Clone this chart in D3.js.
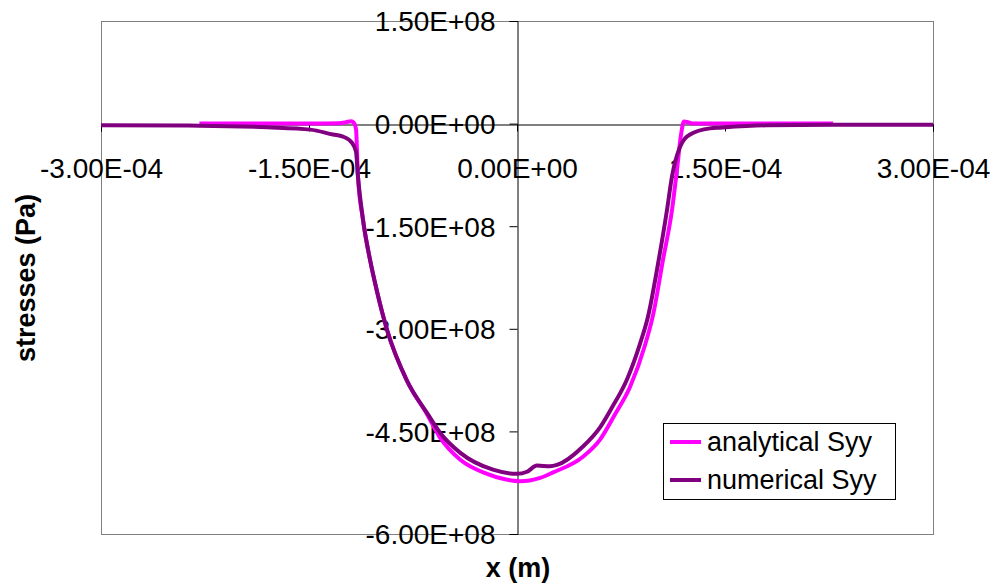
<!DOCTYPE html>
<html>
<head>
<meta charset="utf-8">
<script src="https://cdn.jsdelivr.net/npm/d3@7/dist/d3.min.js"></script>
<style>
  html, body { margin: 0; padding: 0; background: #fff; }
  svg { display: block; font-family: Arial, "Liberation Sans", sans-serif; }
</style>
</head>
<body>
<svg id="chart" width="995" height="586"></svg>
<script>
// ---- data (x in m, stress in Pa) ----
const analyticalX = [-2.29e-4, -1.80e-4, -1.50e-4, -1.28e-4, -1.233e-4, -1.197e-4, -1.176e-4, -1.161e-4, -1.147e-4,
  -1.111e-4, -1.060e-4, -1.010e-4, -0.938e-4, -0.793e-4, -0.649e-4, -0.555e-4, -0.411e-4, -0.216e-4, -0.087e-4,
  0.02e-4, 0.166e-4, 0.260e-4, 0.476e-4, 0.599e-4, 0.707e-4, 0.815e-4, 0.923e-4, 0.981e-4, 1.053e-4, 1.118e-4,
  1.154e-4, 1.183e-4, 1.204e-4, 1.233e-4, 1.27e-4, 1.60e-4, 2.00e-4, 2.28e-4];
const analyticalSyy = [0, 0, 0, 0.5e6, 2e6, 3.5e6, 1e6, -8e6, -7.7e7,
  -1.40e8, -1.99e8, -2.45e8, -3.01e8, -3.76e8, -4.25e8, -4.59e8, -4.91e8, -5.12e8, -5.20e8,
  -5.23e8, -5.18e8, -5.10e8, -4.87e8, -4.62e8, -4.25e8, -3.85e8, -3.24e8, -2.80e8, -1.99e8, -1.26e8,
  -0.67e8, -1.6e7, 3e6, 2e6, 0, 0, 0, 0];

const numericalX = [-3.0e-4, -2.29e-4, -1.80e-4, -1.49e-4, -1.327e-4, -1.255e-4, -1.19e-4, -1.161e-4, -1.147e-4,
  -1.111e-4, -1.060e-4, -1.010e-4, -0.938e-4, -0.793e-4, -0.649e-4, -0.555e-4, -0.411e-4, -0.173e-4, 0,
  0.072e-4, 0.144e-4, 0.238e-4, 0.288e-4, 0.476e-4, 0.599e-4, 0.685e-4, 0.793e-4, 0.887e-4, 0.945e-4, 1.017e-4,
  1.082e-4, 1.118e-4, 1.176e-4, 1.248e-4, 1.392e-4, 1.464e-4, 1.80e-4, 2.28e-4, 3.0e-4];
const numericalSyy = [-2.5e6, -3e6, -5.4e6, -8.8e6, -1.6e7, -1.9e7, -2.8e7, -4.1e7, -7.7e7,
  -1.40e8, -1.99e8, -2.45e8, -3.01e8, -3.76e8, -4.23e8, -4.52e8, -4.81e8, -5.06e8, -5.12e8,
  -5.09e8, -5.00e8, -5.01e8, -4.99e8, -4.72e8, -4.44e8, -4.15e8, -3.74e8, -3.22e8, -2.82e8, -2.05e8,
  -1.26e8, -0.77e8, -0.34e8, -1.6e7, -7e6, -6e6, -2.5e6, -1.5e6, -1.5e6];

const xTicks = [-3.0e-4, -1.5e-4, 0, 1.5e-4, 3.0e-4];
const xTickLabels = ["-3.00E-04", "-1.50E-04", "0.00E+00", "1.50E-04", "3.00E-04"];
const yTicks = [1.5e8, 0, -1.5e8, -3.0e8, -4.5e8, -6.0e8];
const yTickLabels = ["1.50E+08", "0.00E+00", "-1.50E+08", "-3.00E+08", "-4.50E+08", "-6.00E+08"];

const seriesNames = ["analytical Syy", "numerical Syy"];
const seriesColors = ["#FF00FF", "#800080"];

// ---- layout ----
const L = 101, R = 933, T = 21, B = 534;
const svg = d3.select("#chart");
const x = d3.scaleLinear().domain([-3e-4, 3e-4]).range([L, R]);
const y = d3.scaleLinear().domain([-6e8, 1.5e8]).range([B, T]);

// plot area border
svg.append("rect")
  .attr("x", L + 0.5).attr("y", T + 0.5)
  .attr("width", R - L).attr("height", B - T)
  .attr("fill", "#fff").attr("stroke", "#808080").attr("stroke-width", 1);

// x axis along y = 0
const xAxis = d3.axisBottom(x).tickValues(xTicks).tickSize(7)
  .tickFormat((d, i) => xTickLabels[i]);
const gx = svg.append("g").attr("transform", `translate(0,${Math.round(y(0)) + 0.5})`).call(xAxis);
gx.select(".domain").attr("stroke", "#000");
gx.selectAll(".tick line").attr("stroke", "#000");
gx.selectAll(".tick text").attr("font-size", 28).attr("fill", "#000")
  .attr("dy", null).attr("y", 53);

// y axis along x = 0
const yAxis = d3.axisLeft(y).tickValues(yTicks).tickSize(8)
  .tickFormat((d, i) => yTickLabels[i]);
const gy = svg.append("g").attr("transform", `translate(${Math.round(x(0)) + 0.5},0)`).call(yAxis);
gy.select(".domain").attr("stroke", "#000");
gy.selectAll(".tick line").attr("stroke", "#000");
gy.selectAll(".tick text").attr("font-size", 28).attr("fill", "#000")
  .attr("x", -22).attr("dy", "0.35em");

// lines
const line = d3.line().x(d => x(d[0])).y(d => y(d[1])).curve(d3.curveMonotoneX);
const series = [
  analyticalX.map((v, i) => [v, analyticalSyy[i]]),
  numericalX.map((v, i) => [v, numericalSyy[i]])
];
series.forEach((s, i) => {
  svg.append("path").datum(s)
    .attr("d", line)
    .attr("fill", "none")
    .attr("stroke", seriesColors[i])
    .attr("stroke-width", 4)
    .attr("stroke-linejoin", "round");
});

// axis titles
svg.append("text").attr("x", 518).attr("y", 577)
  .attr("text-anchor", "middle").attr("font-size", 27).attr("font-weight", "bold")
  .text("x (m)");
svg.append("text").attr("transform", "translate(35,278) rotate(-90)")
  .attr("text-anchor", "middle").attr("font-size", 27).attr("font-weight", "bold")
  .text("stresses (Pa)");

// legend
const lg = svg.append("g");
lg.append("rect").attr("x", 663.5).attr("y", 423.5).attr("width", 232).attr("height", 76)
  .attr("fill", "#fff").attr("stroke", "#000").attr("stroke-width", 1);
seriesNames.forEach((n, i) => {
  const yy = 442 + i * 38;
  lg.append("line").attr("x1", 670).attr("x2", 701).attr("y1", yy).attr("y2", yy)
    .attr("stroke", seriesColors[i]).attr("stroke-width", 4);
  lg.append("text").attr("x", 707).attr("y", yy).attr("dy", "0.35em")
    .attr("font-size", 27).attr("fill", "#000").text(n);
});
</script>
</body>
</html>
